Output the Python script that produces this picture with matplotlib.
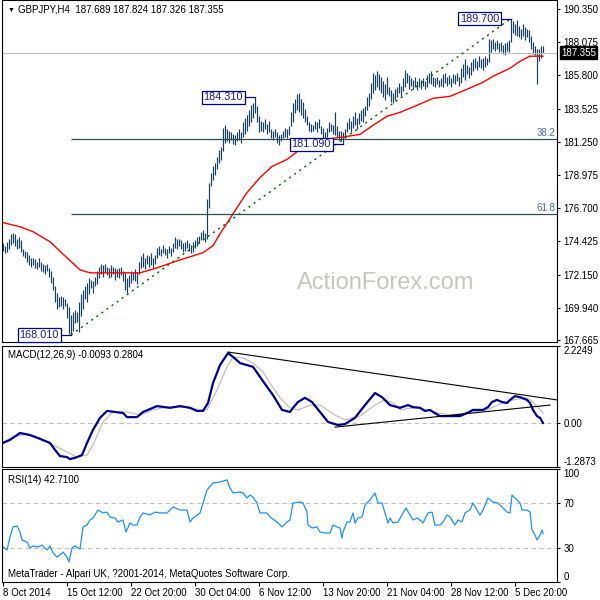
import matplotlib.pyplot as plt

plt.rcParams['font.family'] = ['Liberation Sans', 'DejaVu Sans']

# H4 bars, index 0 = 8 Oct 2014 00:00
lows = [173.8, 173.6, 173.7, 173.9, 174.2, 174.3, 174.1, 173.9, 174.0, 173.7,
        173.4, 173.3, 173.0, 172.8, 172.7, 172.8, 172.6, 172.5, 172.7, 172.4,
        172.3, 172.2, 172.4, 172.0, 171.6, 171.1, 170.3, 169.8, 169.9, 170.0,
        169.8, 170.0, 169.2, 168.1, 168.01, 168.3, 168.8, 168.9, 168.2, 169.3,
        169.8, 170.5, 170.3, 170.8, 171.2, 170.9, 171.4, 171.5, 171.9, 172.2,
        172.0, 172.3, 172.1, 171.9, 172.0, 172.2, 171.8, 172.0, 171.9, 172.1,
        171.7, 171.1, 170.9, 171.3, 171.6, 171.8, 171.7, 171.5, 172.2, 172.6,
        172.7, 172.5, 172.9, 172.7, 172.8, 172.6, 172.9, 173.3, 173.5, 173.4,
        173.6, 173.5, 173.3, 173.6, 173.4, 173.7, 174.0, 173.9, 174.1, 173.9,
        173.7, 173.8, 174.0, 173.8, 173.6, 173.7, 174.0, 174.1, 174.3, 174.5,
        174.6, 174.4, 174.6, 176.7, 178.2, 178.6, 179.0, 179.4, 179.8, 180.0,
        180.6, 181.2, 181.3, 181.2, 181.4, 181.1, 181.0, 181.3, 181.4, 181.2,
        181.6, 181.8, 182.0, 182.3, 182.6, 182.9, 183.2, 182.6, 181.9, 182.0,
        181.9, 182.1, 181.8, 181.9, 181.5, 181.4, 181.6, 181.2, 181.0, 181.3,
        181.5, 181.6, 181.5, 181.7, 182.3, 182.6, 183.2, 183.4, 183.3, 183.1,
        182.9, 182.6, 182.4, 182.0, 181.9, 182.0, 182.1, 181.9, 182.2, 181.8,
        181.5, 181.4, 181.6, 181.9, 182.0, 181.8, 181.7, 181.6, 181.4, 181.3,
        181.09, 181.5, 181.9, 182.1, 181.9, 182.2, 182.4, 182.1, 182.5, 182.7,
        182.6, 183.0, 183.4, 183.7, 184.2, 184.6, 184.8, 185.0, 184.8, 184.6,
        184.3, 184.1, 184.5, 184.4, 184.0, 183.9, 184.1, 184.3, 184.6, 184.4,
        184.7, 185.0, 185.3, 184.9, 185.1, 184.9, 185.0, 184.8, 185.0, 184.9,
        185.1, 184.9, 185.0, 185.3, 185.2, 185.1, 185.0, 185.2, 185.0, 185.1,
        185.0, 185.3, 185.1, 185.2, 185.0, 185.3, 185.2, 185.4, 185.1, 185.3,
        185.7, 185.5, 185.9, 185.6, 185.8, 186.1, 186.3, 186.2, 186.4, 186.3,
        186.2, 186.4, 186.5, 186.7, 187.4, 187.6, 187.5, 187.6, 187.4, 187.5,
        187.3, 187.2, 187.5, 187.4, 188.1, 188.7, 188.6, 188.5, 188.4, 188.3,
        188.5, 188.2, 188.4, 188.1, 187.6, 187.3, 187.2, 185.2, 186.8, 187.0,
        187.326]
highs = [174.3, 174.1, 174.4, 174.6, 174.9, 175.0, 174.9, 174.6, 174.7, 174.5,
         173.9, 173.8, 173.7, 173.5, 173.3, 173.3, 173.2, 173.0, 173.3, 173.0,
         172.9, 172.8, 172.9, 172.6, 172.4, 172.0, 171.4, 170.9, 170.6, 170.7,
         170.6, 170.5, 170.2, 169.9, 169.4, 169.6, 169.7, 169.6, 170.3, 170.8,
         171.1, 171.4, 171.6, 171.9, 171.8, 171.7, 172.0, 172.4, 172.7, 172.9,
         172.8, 172.9, 172.7, 172.6, 172.8, 172.7, 172.6, 172.5, 172.6, 172.7,
         172.4, 172.3, 171.9, 172.1, 172.4, 172.3, 172.5, 172.3, 173.0, 173.4,
         173.6, 173.3, 173.5, 173.4, 173.6, 173.3, 173.5, 174.0, 174.1, 173.9,
         174.2, 174.0, 173.9, 174.1, 174.0, 174.3, 174.7, 174.6, 174.6, 174.5,
         174.3, 174.4, 174.5, 174.3, 174.2, 174.4, 174.5, 174.7, 174.8, 175.1,
         175.2, 175.0, 177.3, 178.4, 179.1, 179.6, 179.8, 180.2, 180.7, 180.9,
         182.2, 182.4, 182.1, 182.0, 181.9, 181.8, 181.7, 181.9, 182.1, 181.9,
         182.6, 182.9, 183.1, 183.4, 183.8, 183.9, 184.31, 183.7, 183.0, 182.7,
         182.6, 182.8, 182.5, 182.7, 182.1, 182.0, 182.1, 181.9, 181.7, 181.8,
         182.0, 182.2, 182.1, 182.3, 183.3, 183.9, 184.2, 184.5, 184.6, 184.2,
         184.0, 183.5, 183.0, 182.6, 182.5, 182.4, 182.7, 182.6, 182.8, 182.3,
         182.2, 181.9, 182.2, 182.6, 182.5, 182.4, 183.3, 182.3, 182.0, 182.0,
         181.9, 182.1, 182.6, 182.9, 182.7, 183.0, 183.3, 182.9, 183.2, 183.4,
         183.6, 183.7, 184.3, 184.6, 185.3, 186.0, 185.8, 186.1, 185.9, 185.7,
         185.4, 185.2, 185.7, 185.0, 184.8, 184.6, 184.9, 185.0, 185.3, 185.1,
         185.6, 186.2, 186.0, 185.8, 185.6, 185.5, 185.7, 185.4, 185.6, 185.5,
         185.6, 185.4, 185.8, 186.0, 186.1, 185.7, 185.6, 185.7, 185.5, 185.6,
         185.9, 186.0, 185.7, 185.8, 185.6, 185.9, 185.8, 186.0, 185.7, 186.3,
         186.6, 186.9, 186.5, 186.4, 186.7, 186.9, 187.0, 186.8, 187.1, 186.9,
         187.0, 187.1, 187.0, 188.3, 188.2, 188.3, 188.1, 188.2, 188.0, 188.1,
         187.9, 188.0, 188.1, 188.2, 189.70, 189.5, 189.3, 189.6, 189.2, 189.0,
         189.3, 189.1, 189.0, 188.9, 188.5, 188.1, 187.8, 187.6, 187.6, 187.8,
         187.824]

# moving average (red)
ma_idx = [0, 8.5, 15, 23.5, 32, 38.5, 43.5, 52, 68.5, 77, 87, 100, 105, 108.5,
          112.5, 117, 122, 128.5, 134.5, 142, 148.5, 158.5, 165, 172, 178.5, 185,
          192, 198.5, 207, 215, 223.5, 232, 240, 245, 253.5, 258.5, 263.5, 270]
ma_val = [175.71, 175.43, 175.09, 174.40, 173.30, 172.48, 172.27, 172.27, 172.27,
          172.61, 173.09, 173.65, 174.13, 174.95, 175.78, 176.74, 177.77, 178.80,
          179.56, 180.04, 180.73, 181.35, 181.49, 181.62, 181.76, 182.38, 183.00,
          183.27, 183.75, 184.23, 184.37, 184.85, 185.33, 185.74, 186.29, 186.77,
          187.12, 187.12]

# MACD(12,26,9) main and signal
macd_idx = [0, 3.5, 8.5, 13.5, 18.5, 23.5, 26, 28.5, 32, 33.5, 37, 39.5, 42, 45,
            48.5, 52, 56, 60, 62, 67, 70, 77, 83.5, 88.5, 93.5, 97, 100, 102.5,
            105, 108.5, 112.5, 115, 118.5, 122, 125, 128.5, 132, 135, 139.5,
            143.5, 145, 147.5, 151, 154.5, 158.5, 162.5, 167.5, 171, 176, 181,
            186, 189.5, 193.5, 198.5, 202.5, 205, 208.5, 211, 213.5, 215, 218.5,
            223.5, 228.5, 232, 235, 240, 242.5, 244.5, 247, 249.5, 252, 253.5,
            256, 258.5, 262, 263.5, 265, 267, 268.5, 270]
macd_val = [-0.59, -0.50, -0.30, -0.36, -0.47, -0.59, -0.79, -0.97, -1.00, -1.06,
            -1.00, -0.94, -0.59, -0.21, 0.14, 0.34, 0.31, 0.28, 0.16, 0.16, 0.31,
            0.48, 0.43, 0.48, 0.43, 0.34, 0.34, 0.57, 1.15, 1.67, 2.02, 1.91,
            1.73, 1.67, 1.62, 1.33, 1.04, 0.80, 0.37, 0.31, 0.43, 0.60, 0.72,
            0.60, 0.31, 0.02, -0.07, -0.04, 0.14, 0.51, 0.86, 0.74, 0.51, 0.43,
            0.51, 0.45, 0.43, 0.34, 0.37, 0.31, 0.19, 0.19, 0.19, 0.28, 0.37,
            0.37, 0.45, 0.60, 0.66, 0.60, 0.57, 0.66, 0.77, 0.74, 0.66, 0.57,
            0.37, 0.19, 0.14, -0.0093]
sig_idx = [0, 5, 12, 18.5, 25, 32, 37, 42, 45, 50, 55, 62, 68.5, 75, 82, 92,
           98.5, 102, 107, 112, 115, 120, 125, 130, 133.5, 138.5, 143.5, 147.5,
           153.5, 158.5, 166, 171, 178.5, 186, 191, 196, 198.5, 207, 215, 223.5,
           232, 242, 248.5, 255, 262, 265, 270]
sig_val = [-0.56, -0.42, -0.33, -0.45, -0.65, -0.85, -1.00, -0.94, -0.65, 0.02,
           0.31, 0.31, 0.22, 0.37, 0.45, 0.45, 0.37, 0.37, 0.95, 1.62, 1.91, 1.88,
           1.73, 1.47, 1.15, 0.72, 0.43, 0.37, 0.51, 0.51, 0.22, 0.08, 0.19, 0.51,
           0.66, 0.54, 0.37, 0.45, 0.31, 0.22, 0.28, 0.37, 0.54, 0.66, 0.72, 0.60,
           0.2804]

# RSI(14)
rsi_idx = [0, 2, 3.5, 5, 7, 8.5, 9.5, 12, 13.5, 15, 17.5, 19.5, 22, 23.5, 25, 27,
           28.5, 30, 32, 33, 34.5, 36, 38.5, 40, 42, 43.5, 45, 47.5, 50, 52, 53.5,
           56, 57.5, 60, 61.5, 63.5, 65, 67, 68.5, 70, 73.5, 76, 78.5, 82, 85,
           88.5, 92, 93.5, 95, 98.5, 100, 102, 105, 108.5, 112, 113.5, 115, 118.5,
           120, 122, 123.5, 125, 127, 128.5, 132, 133.5, 137, 139.5, 142, 143.5,
           145, 148.5, 150, 152, 152.5, 154.5, 157, 158.5, 161, 163.5, 165, 167,
           168.5, 169.5, 170, 172, 173.5, 175, 176, 177.5, 179.5, 181, 183.5, 186,
           187.5, 189.5, 191, 192.5, 193.5, 195, 197.5, 200, 201.5, 203.5, 205,
           207, 208.5, 210, 212.5, 214.5, 216, 218.5, 220, 222, 223.5, 226, 227.5,
           229.5, 231, 233.5, 235, 237, 238.5, 240, 242.5, 245, 247.5, 249.5, 252,
           253.5, 254.5, 256, 258.5, 259.5, 262, 263.5, 264.5, 266, 267, 268.5,
           269.5, 270]
rsi_val = [31.0, 28.3, 39.8, 48.7, 49.6, 44.2, 37.2, 35.4, 30.1, 31.9, 31.0, 32.7,
           28.3, 31.9, 25.7, 22.1, 23.9, 26.5, 22.1, 17.7, 30.1, 31.9, 29.2, 48.7,
           50.4, 54.9, 56.6, 63.7, 61.1, 61.9, 57.5, 56.6, 53.1, 54.9, 44.2, 52.2,
           50.4, 50.4, 57.5, 61.1, 59.3, 61.9, 61.1, 61.1, 66.4, 63.7, 63.7, 53.1,
           56.6, 61.1, 69.9, 81.4, 87.6, 88.5, 90.3, 83.2, 78.8, 79.6, 78.8, 74.3,
           77.0, 75.2, 69.9, 61.1, 61.1, 57.5, 53.1, 48.7, 53.1, 54.9, 69.9, 70.8,
           69.9, 61.9, 50.4, 47.8, 48.7, 44.2, 43.4, 43.4, 50.4, 48.7, 47.8, 38.9,
           44.2, 53.1, 53.1, 61.1, 52.2, 56.6, 57.5, 68.1, 72.6, 78.8, 69.9, 69.9,
           61.1, 52.2, 56.6, 52.2, 53.1, 61.1, 65.5, 59.3, 54.9, 56.6, 54.9, 52.2,
           61.1, 61.9, 50.4, 50.4, 53.1, 59.3, 57.5, 50.4, 54.9, 53.1, 61.1, 63.7,
           69.9, 63.7, 59.3, 63.7, 74.3, 70.8, 69.9, 66.4, 61.9, 61.1, 77.0, 74.3,
           69.9, 63.7, 63.7, 61.9, 46.0, 41.6, 37.2, 41.6, 46.0, 42.71]

price_ticks = [190.350, 188.075, 185.800, 183.525, 181.250, 178.975, 176.700,
               174.425, 172.150, 169.875, 167.665]
price_labels = ['190.350', '188.075', '185.800', '183.525', '181.250', '178.975',
                '176.700', '174.425', '172.150', '169.940', '167.665']
date_idx = [0, 32, 64, 96, 128, 160, 192, 224, 256]
date_labels = ['8 Oct 2014', '15 Oct 12:00', '22 Oct 20:00', '30 Oct 04:00',
               '6 Nov 12:00', '13 Nov 20:00', '21 Nov 04:00', '28 Nov 12:00',
               '5 Dec 20:00']
last_close = 187.355
swing_low, swing_high = 168.01, 189.70

bar_color = '#17405e'
fs = 7

fig = plt.figure(figsize=(6, 6), dpi=100)
ax1 = fig.add_axes([2/600, 258/600, 555/600, 342/600])
ax2 = fig.add_axes([2/600, 133/600, 555/600, 121/600])
ax3 = fig.add_axes([2/600, 18/600, 555/600, 113/600])

for ax in (ax1, ax2, ax3):
    ax.set_xlim(-0.5, 277)
    for s in ax.spines.values():
        s.set_linewidth(0.8)
    ax.yaxis.tick_right()
    ax.tick_params(axis='y', labelsize=fs, length=2.5, width=0.8, pad=2)
    ax.tick_params(axis='x', bottom=False, labelbottom=False)

# price panel
idx = list(range(len(lows)))
ax1.vlines(idx, lows, highs, color=bar_color, linewidth=0.85)
ax1.plot(ma_idx, ma_val, color='red', linewidth=1)
ax1.axhline(last_close, color='#c0c0c0', linewidth=0.8)
rng = swing_high - swing_low
for lvl, name in [(0.382, '38.2'), (0.618, '61.8')]:
    p = swing_high - lvl * rng
    ax1.hlines(p, 34, 277, color='#2f4f4f', linewidth=0.9)
    ax1.text(276, p + 0.08, name, ha='right', va='bottom', fontsize=7, color='#4a6f8f')
ax1.plot([34, 254], [swing_low, swing_high], color='#006400', linewidth=1,
         linestyle=(0, (1.5, 3)))
for i, p, t in [(34, 168.01, '168.010'), (126, 184.31, '184.310'),
                (170, 181.09, '181.090'), (254, 189.70, '189.700')]:
    ax1.plot([i - 5, i], [p, p], color='#000080', linewidth=0.9)
    ax1.annotate(t, xy=(i, p), xytext=(-12, 0), textcoords='offset pixels',
                 ha='right', va='center', fontsize=7.8, color='#1c1c8c',
                 bbox=dict(boxstyle='square,pad=0.15', fc='white', ec='#000080', lw=0.9))
ax1.set_ylim(167.53, 190.97)
ax1.set_yticks(price_ticks, price_labels)
ax1.annotate(f'{last_close:.3f}', xy=(1.0, last_close), xycoords=('axes fraction', 'data'),
             xytext=(4, 0), textcoords='offset pixels', ha='left', va='center',
             fontsize=fs, color='white',
             bbox=dict(boxstyle='square,pad=0.15', fc='black', ec='black'))

# MACD panel
ax2.axhline(0, color='#c0c0c0', linewidth=0.8, linestyle=(0, (4, 3)))
ax2.plot(sig_idx, sig_val, color='#c0c0c0', linewidth=0.9)
ax2.plot(macd_idx, macd_val, color='#00008b', linewidth=1.6)
ax2.plot([112.5, 277], [2.05, 0.66], color='black', linewidth=0.8)
ax2.plot([166, 273.5], [-0.13, 0.51], color='black', linewidth=0.8)
ax2.set_ylim(-1.2873, 2.2249)
ax2.set_yticks([2.2249, 0, -1.2873], ['2.2249', '0.00', '-1.2873'])
lbl = ax2.get_yticklabels()
lbl[0].set_va('top')
lbl[2].set_va('bottom')
ax2.text(0.01, 0.97, 'MACD(12,26,9) -0.0093 0.2804', transform=ax2.transAxes,
         ha='left', va='top', fontsize=fs)

# RSI panel
ax3.axhline(70, color='#c0c0c0', linewidth=0.8, linestyle=(0, (4, 3)))
ax3.axhline(30, color='#c0c0c0', linewidth=0.8, linestyle=(0, (4, 3)))
ax3.plot(rsi_idx, rsi_val, color='#1e90ff', linewidth=0.9)
ax3.set_ylim(0, 100)
ax3.set_yticks([100, 70, 30, 0], ['100', '70', '30', '0'])
lbl = ax3.get_yticklabels()
lbl[0].set_va('top')
lbl[3].set_va('bottom')
ax3.text(0.01, 0.95, 'RSI(14) 42.7100', transform=ax3.transAxes,
         ha='left', va='top', fontsize=fs)
ax3.text(0.01, 0.03, 'MetaTrader - Alpari UK, ?2001-2014, MetaQuotes Software Corp.',
         transform=ax3.transAxes, ha='left', va='bottom', fontsize=fs)
ax3.tick_params(axis='x', bottom=True, labelbottom=True, labelsize=fs,
                length=3, width=0.8, pad=1)
ax3.set_xticks(date_idx, date_labels, ha='left')

fig.text(8/600, 1 - 10/600, '\u25bc', fontsize=5, ha='left', va='center')
fig.text(18/600, 1 - 10/600, 'GBPJPY,H4  187.689 187.824 187.326 187.355',
         fontsize=fs, ha='left', va='center')
fig.text(386/600, 1 - 283/600, 'ActionForex.com', fontsize=17, color='#c8c4c0',
         ha='center', va='center')

fig.savefig('out.png', dpi=100)
